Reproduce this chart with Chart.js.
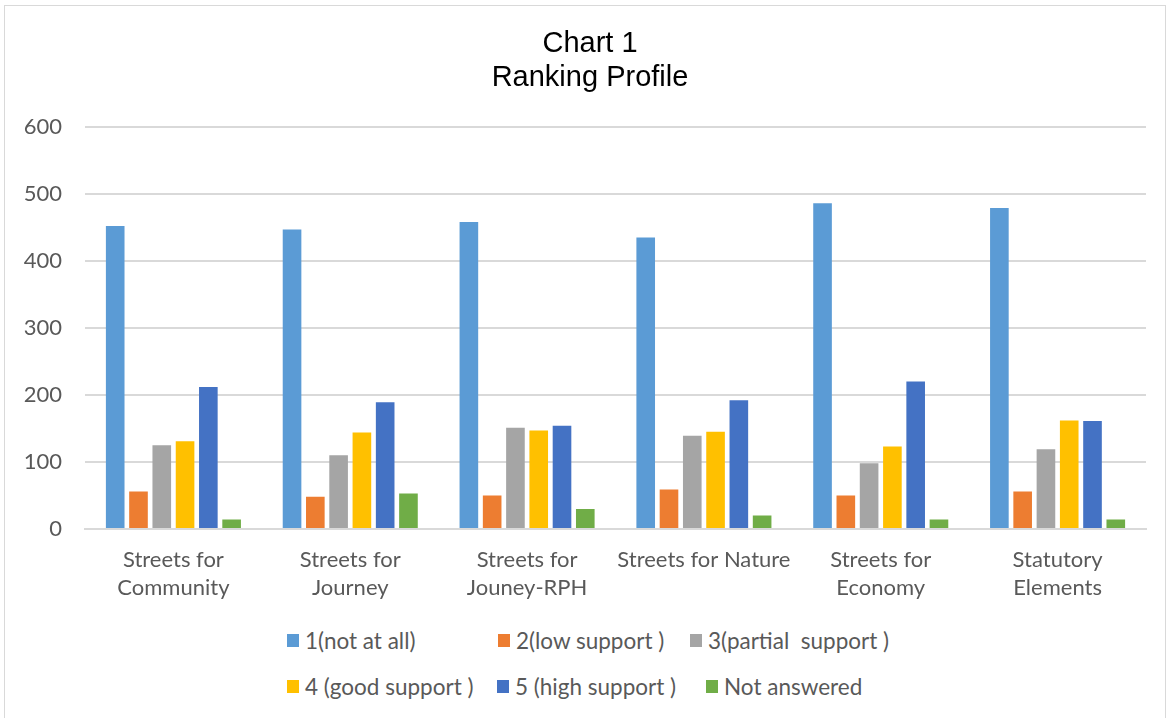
<!DOCTYPE html>
<html>
<head>
<meta charset="utf-8">
<script src="https://cdn.jsdelivr.net/npm/chart.js@4.4.1/dist/chart.umd.min.js"></script>
<style>
  html, body { margin: 0; padding: 0; background: #fff; overflow: hidden; }
  #frame {
    position: absolute; left: 4px; top: 5px; width: 1162px; height: 720px;
    border: 1px solid #d9d9d9; box-sizing: border-box;
  }
  #wrap { position: absolute; left: 0; top: 0; width: 1160px; height: 614px; }
  .legend-item {
    position: absolute; display: flex; align-items: center;
    font-family: Lato, "Liberation Sans", sans-serif; font-size: 22.5px; color: #595959;
    white-space: pre;
  }
  .legend-item span.box { width: 12px; height: 13px; margin-right: 6px; display: inline-block; }
</style>
</head>
<body>
<div id="frame">
  <div id="wrap"><canvas id="rankChart"></canvas></div>
  <div id="legend"></div>
</div>
<script>
const categories = [
  ['Streets for', 'Community'],
  ['Streets for', 'Journey'],
  ['Streets for', 'Jouney-RPH'],
  'Streets for Nature',
  ['Streets for', 'Economy'],
  ['Statutory', 'Elements']
];
const seriesNames = ['1(not at all)', '2(low support )', '3(partial  support )',
  '4 (good support )', '5 (high support )', 'Not answered'];
const seriesColors = ['#5B9BD5', '#ED7D31', '#A5A5A5', '#FFC000', '#4472C4', '#70AD47'];

const notAtAll      = [452, 447, 458, 435, 486, 479];
const lowSupport    = [56, 48, 50, 59, 50, 56];
const partSupport   = [125, 110, 151, 139, 98, 119];
const goodSupport   = [131, 144, 147, 145, 123, 162];
const highSupport   = [212, 189, 154, 192, 220, 161];
const notAnswered   = [14, 53, 30, 20, 14, 14];

const yTicks = [0, 100, 200, 300, 400, 500, 600];

const seriesValues = [notAtAll, lowSupport, partSupport, goodSupport, highSupport, notAnswered];

// title is centred on the whole frame, not on the space left of the right padding
const shiftTitle = {
  id: 'shiftTitle',
  afterLayout(chart) {
    if (chart.titleBlock) chart.titleBlock.left += 29;
  }
};

const ctx = document.getElementById('rankChart').getContext('2d');
const chart = new Chart(ctx, {
  type: 'bar',
  data: {
    labels: categories,
    datasets: seriesNames.map((name, i) => ({
      label: name,
      data: seriesValues[i],
      backgroundColor: seriesColors[i],
      borderWidth: 0,
      barPercentage: 0.8,
      categoryPercentage: 0.79
    }))
  },
  plugins: [shiftTitle],
  options: {
    responsive: true,
    maintainAspectRatio: false,
    animation: false,
    layout: { padding: { left: 0, right: 19, top: 0, bottom: 0 } },
    plugins: {
      legend: { display: false },
      tooltip: { enabled: false },
      title: {
        display: true,
        text: ['Chart 1', 'Ranking Profile'],
        color: '#000',
        font: { family: '"Liberation Sans", Arial, sans-serif', size: 29, weight: 'normal', lineHeight: 1.17 },
        padding: { top: 21, bottom: 32 }
      }
    },
    scales: {
      x: {
        grid: { display: false, drawTicks: false },
        border: { display: true, color: '#d9d9d9', width: 2 },
        ticks: {
          color: '#595959',
          font: { family: 'Lato, sans-serif', size: 22, lineHeight: 1.27 },
          padding: 17,
          maxRotation: 0,
          autoSkip: false
        },
        afterFit: s => { s.height = 91; }
      },
      y: {
        min: 0,
        max: 600,
        afterBuildTicks: s => { s.ticks = yTicks.map(v => ({ value: v })); },
        grid: { color: '#d9d9d9', lineWidth: 2, drawTicks: false },
        border: { display: false },
        ticks: {
          color: '#595959',
          font: { family: 'Lato, sans-serif', size: 22 },
          padding: 23
        },
        afterFit: s => { s.width = 80; }
      }
    }
  }
});

// legend laid out in two rows of three, like the original sheet
const legendSpots = [[282, 621], [493, 621], [685, 621], [282, 667], [492, 667], [701, 667]];
const legendEl = document.getElementById('legend');
chart.data.datasets.forEach((ds, i) => {
  const item = document.createElement('div');
  item.className = 'legend-item';
  item.style.left = legendSpots[i][0] + 'px';
  item.style.top = legendSpots[i][1] + 'px';
  item.innerHTML = '<span class="box" style="background:' + ds.backgroundColor + '"></span>' + ds.label;
  legendEl.appendChild(item);
});
</script>
</body>
</html>
